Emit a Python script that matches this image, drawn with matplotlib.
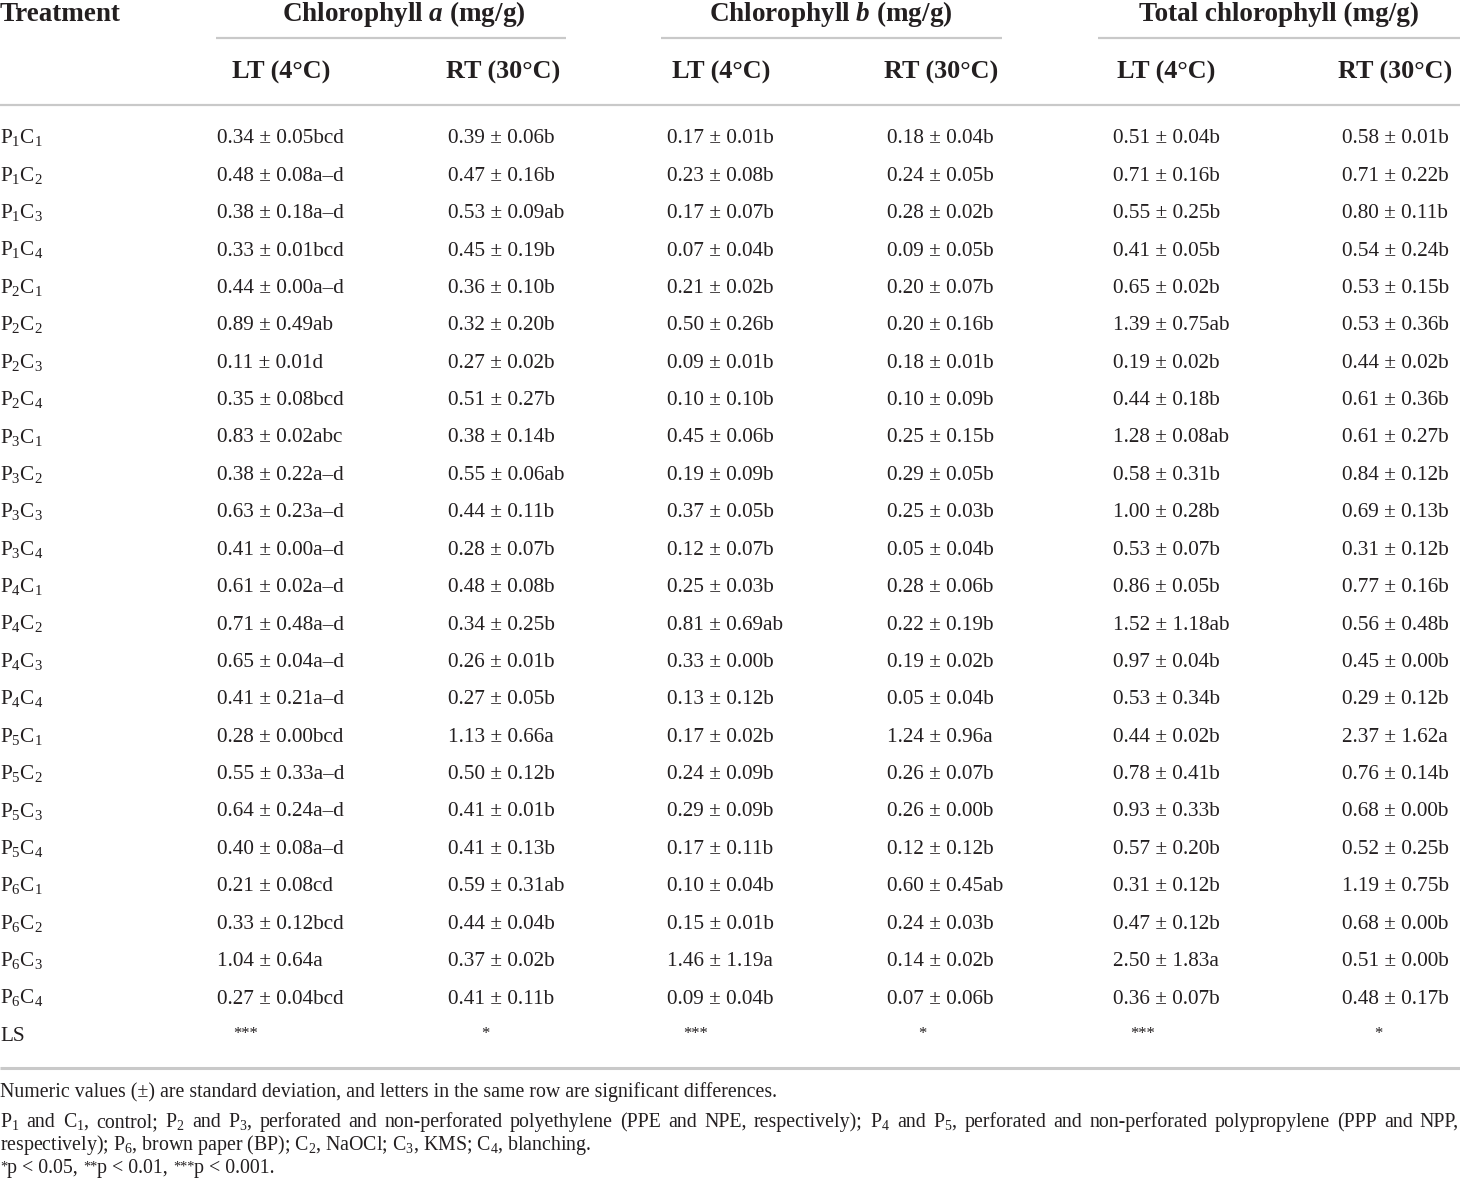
import matplotlib
matplotlib.use("Agg")
import matplotlib.pyplot as plt

plt.rcParams['font.family'] = ['Liberation Serif', 'DejaVu Serif']
plt.rcParams['mathtext.fontset'] = 'custom'
plt.rcParams['mathtext.rm'] = 'Liberation Serif'
plt.rcParams['mathtext.it'] = 'Liberation Serif:italic'
plt.rcParams['mathtext.bf'] = 'Liberation Serif:bold'
plt.rcParams['mathtext.bfit'] = 'Liberation Serif:bold:italic'

# ---------------- data ----------------
treatments = [f"P$_{p}$C$_{c}$" for p in range(1, 7) for c in range(1, 5)]

chla_lt_mean = [0.34, 0.48, 0.38, 0.33, 0.44, 0.89, 0.11, 0.35, 0.83, 0.38, 0.63, 0.41,
                0.61, 0.71, 0.65, 0.41, 0.28, 0.55, 0.64, 0.40, 0.21, 0.33, 1.04, 0.27]
chla_lt_sd = [0.05, 0.08, 0.18, 0.01, 0.00, 0.49, 0.01, 0.08, 0.02, 0.22, 0.23, 0.00,
              0.02, 0.48, 0.04, 0.21, 0.00, 0.33, 0.24, 0.08, 0.08, 0.12, 0.64, 0.04]
chla_lt_let = ["bcd", "a–d", "a–d", "bcd", "a–d", "ab", "d", "bcd", "abc", "a–d", "a–d", "a–d",
               "a–d", "a–d", "a–d", "a–d", "bcd", "a–d", "a–d", "a–d", "cd", "bcd", "a", "bcd"]

chla_rt_mean = [0.39, 0.47, 0.53, 0.45, 0.36, 0.32, 0.27, 0.51, 0.38, 0.55, 0.44, 0.28,
                0.48, 0.34, 0.26, 0.27, 1.13, 0.50, 0.41, 0.41, 0.59, 0.44, 0.37, 0.41]
chla_rt_sd = [0.06, 0.16, 0.09, 0.19, 0.10, 0.20, 0.02, 0.27, 0.14, 0.06, 0.11, 0.07,
              0.08, 0.25, 0.01, 0.05, 0.66, 0.12, 0.01, 0.13, 0.31, 0.04, 0.02, 0.11]
chla_rt_let = ["b", "b", "ab", "b", "b", "b", "b", "b", "b", "ab", "b", "b",
               "b", "b", "b", "b", "a", "b", "b", "b", "ab", "b", "b", "b"]

chlb_lt_mean = [0.17, 0.23, 0.17, 0.07, 0.21, 0.50, 0.09, 0.10, 0.45, 0.19, 0.37, 0.12,
                0.25, 0.81, 0.33, 0.13, 0.17, 0.24, 0.29, 0.17, 0.10, 0.15, 1.46, 0.09]
chlb_lt_sd = [0.01, 0.08, 0.07, 0.04, 0.02, 0.26, 0.01, 0.10, 0.06, 0.09, 0.05, 0.07,
              0.03, 0.69, 0.00, 0.12, 0.02, 0.09, 0.09, 0.11, 0.04, 0.01, 1.19, 0.04]
chlb_lt_let = ["b", "b", "b", "b", "b", "b", "b", "b", "b", "b", "b", "b",
               "b", "ab", "b", "b", "b", "b", "b", "b", "b", "b", "a", "b"]

chlb_rt_mean = [0.18, 0.24, 0.28, 0.09, 0.20, 0.20, 0.18, 0.10, 0.25, 0.29, 0.25, 0.05,
                0.28, 0.22, 0.19, 0.05, 1.24, 0.26, 0.26, 0.12, 0.60, 0.24, 0.14, 0.07]
chlb_rt_sd = [0.04, 0.05, 0.02, 0.05, 0.07, 0.16, 0.01, 0.09, 0.15, 0.05, 0.03, 0.04,
              0.06, 0.19, 0.02, 0.04, 0.96, 0.07, 0.00, 0.12, 0.45, 0.03, 0.02, 0.06]
chlb_rt_let = ["b", "b", "b", "b", "b", "b", "b", "b", "b", "b", "b", "b",
               "b", "b", "b", "b", "a", "b", "b", "b", "ab", "b", "b", "b"]

tot_lt_mean = [0.51, 0.71, 0.55, 0.41, 0.65, 1.39, 0.19, 0.44, 1.28, 0.58, 1.00, 0.53,
               0.86, 1.52, 0.97, 0.53, 0.44, 0.78, 0.93, 0.57, 0.31, 0.47, 2.50, 0.36]
tot_lt_sd = [0.04, 0.16, 0.25, 0.05, 0.02, 0.75, 0.02, 0.18, 0.08, 0.31, 0.28, 0.07,
             0.05, 1.18, 0.04, 0.34, 0.02, 0.41, 0.33, 0.20, 0.12, 0.12, 1.83, 0.07]
tot_lt_let = ["b", "b", "b", "b", "b", "ab", "b", "b", "ab", "b", "b", "b",
              "b", "ab", "b", "b", "b", "b", "b", "b", "b", "b", "a", "b"]

tot_rt_mean = [0.58, 0.71, 0.80, 0.54, 0.53, 0.53, 0.44, 0.61, 0.61, 0.84, 0.69, 0.31,
               0.77, 0.56, 0.45, 0.29, 2.37, 0.76, 0.68, 0.52, 1.19, 0.68, 0.51, 0.48]
tot_rt_sd = [0.01, 0.22, 0.11, 0.24, 0.15, 0.36, 0.02, 0.36, 0.27, 0.12, 0.13, 0.12,
             0.16, 0.48, 0.00, 0.12, 1.62, 0.14, 0.00, 0.25, 0.75, 0.00, 0.00, 0.17]
tot_rt_let = ["b", "b", "b", "b", "b", "b", "b", "b", "b", "b", "b", "b",
              "b", "b", "b", "b", "a", "b", "b", "b", "b", "b", "b", "b"]

ls_row = ["***", "*", "***", "*", "***", "*"]

group_headers = ["Chlorophyll $\\mathbfit{a}$ (mg/g)", "Chlorophyll $\\mathbfit{b}$ (mg/g)",
                 "Total chlorophyll (mg/g)"]
sub_headers = ["LT (4°C)", "RT (30°C)"] * 3

footnotes = [
    "Numeric values (±) are standard deviation, and letters in the same row are significant differences.",
    "P$_1$ and C$_1$, control; P$_2$ and P$_3$, perforated and non-perforated polyethylene (PPE and NPE, respectively); "
    "P$_4$ and P$_5$, perforated and non-perforated polypropylene (PPP and NPP,",
    "respectively); P$_6$, brown paper (BP); C$_2$, NaOCl; C$_3$, KMS; C$_4$, blanching.",
]
justified = [False, True, False]
pvalue_marks = ["*", "**", "***"]
pvalue_texts = ["p < 0.05,", "p < 0.01,", "p < 0.001."]

columns = [
    (chla_lt_mean, chla_lt_sd, chla_lt_let),
    (chla_rt_mean, chla_rt_sd, chla_rt_let),
    (chlb_lt_mean, chlb_lt_sd, chlb_lt_let),
    (chlb_rt_mean, chlb_rt_sd, chlb_rt_let),
    (tot_lt_mean, tot_lt_sd, tot_lt_let),
    (tot_rt_mean, tot_rt_sd, tot_rt_let),
]

# ---------------- layout ----------------
W, H = 1460, 1179
fig = plt.figure(figsize=(W / 100, H / 100), dpi=100)
ax = fig.add_axes([0, 0, 1, 1])
ax.set_xlim(0, W)
ax.set_ylim(H, 0)
ax.axis('off')
renderer = fig.canvas.get_renderer()

TXT = '#231f20'
LINE = '#c9c9c9'
body_fs = 15.3
head_fs = 19.5
sub_fs = 18.8
foot_fs = 14.3

col_x = [217, 448, 667, 887, 1113, 1342]
star_x = [246, 485, 696, 922, 1143, 1378]
sub_cx = [281, 503, 721, 941, 1166, 1395]
grp_cx = [404, 831, 1279]
grp_lines = [(216, 566), (661, 1002), (1098, 1460)]

row0 = 143.3
row_dy = 37.4

# header
ax.text(0, 21, "Treatment", fontsize=head_fs, fontweight='bold', color=TXT,
        ha='left', va='baseline')
for cx, label in zip(grp_cx, group_headers):
    ax.text(cx, 21, label, fontsize=head_fs, fontweight='bold', color=TXT,
            ha='center', va='baseline')
for (x0, x1) in grp_lines:
    ax.plot([x0, x1], [38, 38], color=LINE, lw=1.6, solid_capstyle='butt')
for cx, label in zip(sub_cx, sub_headers):
    ax.text(cx, 78.5, label, fontsize=sub_fs, fontweight='bold', color=TXT,
            ha='center', va='baseline')
ax.plot([0, W], [105, 105], color=LINE, lw=1.6, solid_capstyle='butt')

# body
for i, tname in enumerate(treatments):
    y = row0 + i * row_dy
    ax.text(0, y, tname, fontsize=body_fs, color=TXT, ha='left', va='baseline')
    for x, (m, s, l) in zip(col_x, columns):
        ax.text(x, y, f"{m[i]:.2f} ± {s[i]:.2f}{l[i]}", fontsize=body_fs, color=TXT,
                ha='left', va='baseline')

y_ls = row0 + len(treatments) * row_dy
ax.text(0, y_ls, "LS", fontsize=body_fs, color=TXT, ha='left', va='baseline')
for x, s in zip(star_x, ls_row):
    ax.text(x, y_ls - 3, s, fontsize=body_fs * 0.78, color=TXT, ha='center', va='baseline')

ax.plot([0, W], [1068, 1068], color=LINE, lw=2.2, solid_capstyle='butt')


def text_width(s, fs):
    t = ax.text(0, 0, s, fontsize=fs)
    w = t.get_window_extent(renderer=renderer).width
    t.remove()
    return w


space_w = text_width("a a", foot_fs) - text_width("aa", foot_fs)

# footnotes
foot_y = [1097, 1127, 1150, 1173]
for y, t, just in zip(foot_y, footnotes, justified):
    if not just:
        ax.text(0, y, t, fontsize=foot_fs, color=TXT, ha='left', va='baseline')
        continue
    words = t.split(' ')
    widths = [text_width(w, foot_fs) for w in words]
    gap = (W - 1 - sum(widths)) / (len(words) - 1)
    x = 0.0
    for w, wd in zip(words, widths):
        ax.text(x, y, w, fontsize=foot_fs, color=TXT, ha='left', va='baseline')
        x += wd + gap

# p-value line with superscript asterisks
x = 0.0
y = foot_y[3]
sup_fs = foot_fs * 0.72
for mark, txt in zip(pvalue_marks, pvalue_texts):
    ax.text(x, y - 2, mark, fontsize=sup_fs, color=TXT, ha='left', va='baseline')
    x += text_width(mark, sup_fs)
    ax.text(x, y, txt, fontsize=foot_fs, color=TXT, ha='left', va='baseline')
    x += text_width(txt, foot_fs) + space_w

fig.savefig("out.png", dpi=100, facecolor='white')
